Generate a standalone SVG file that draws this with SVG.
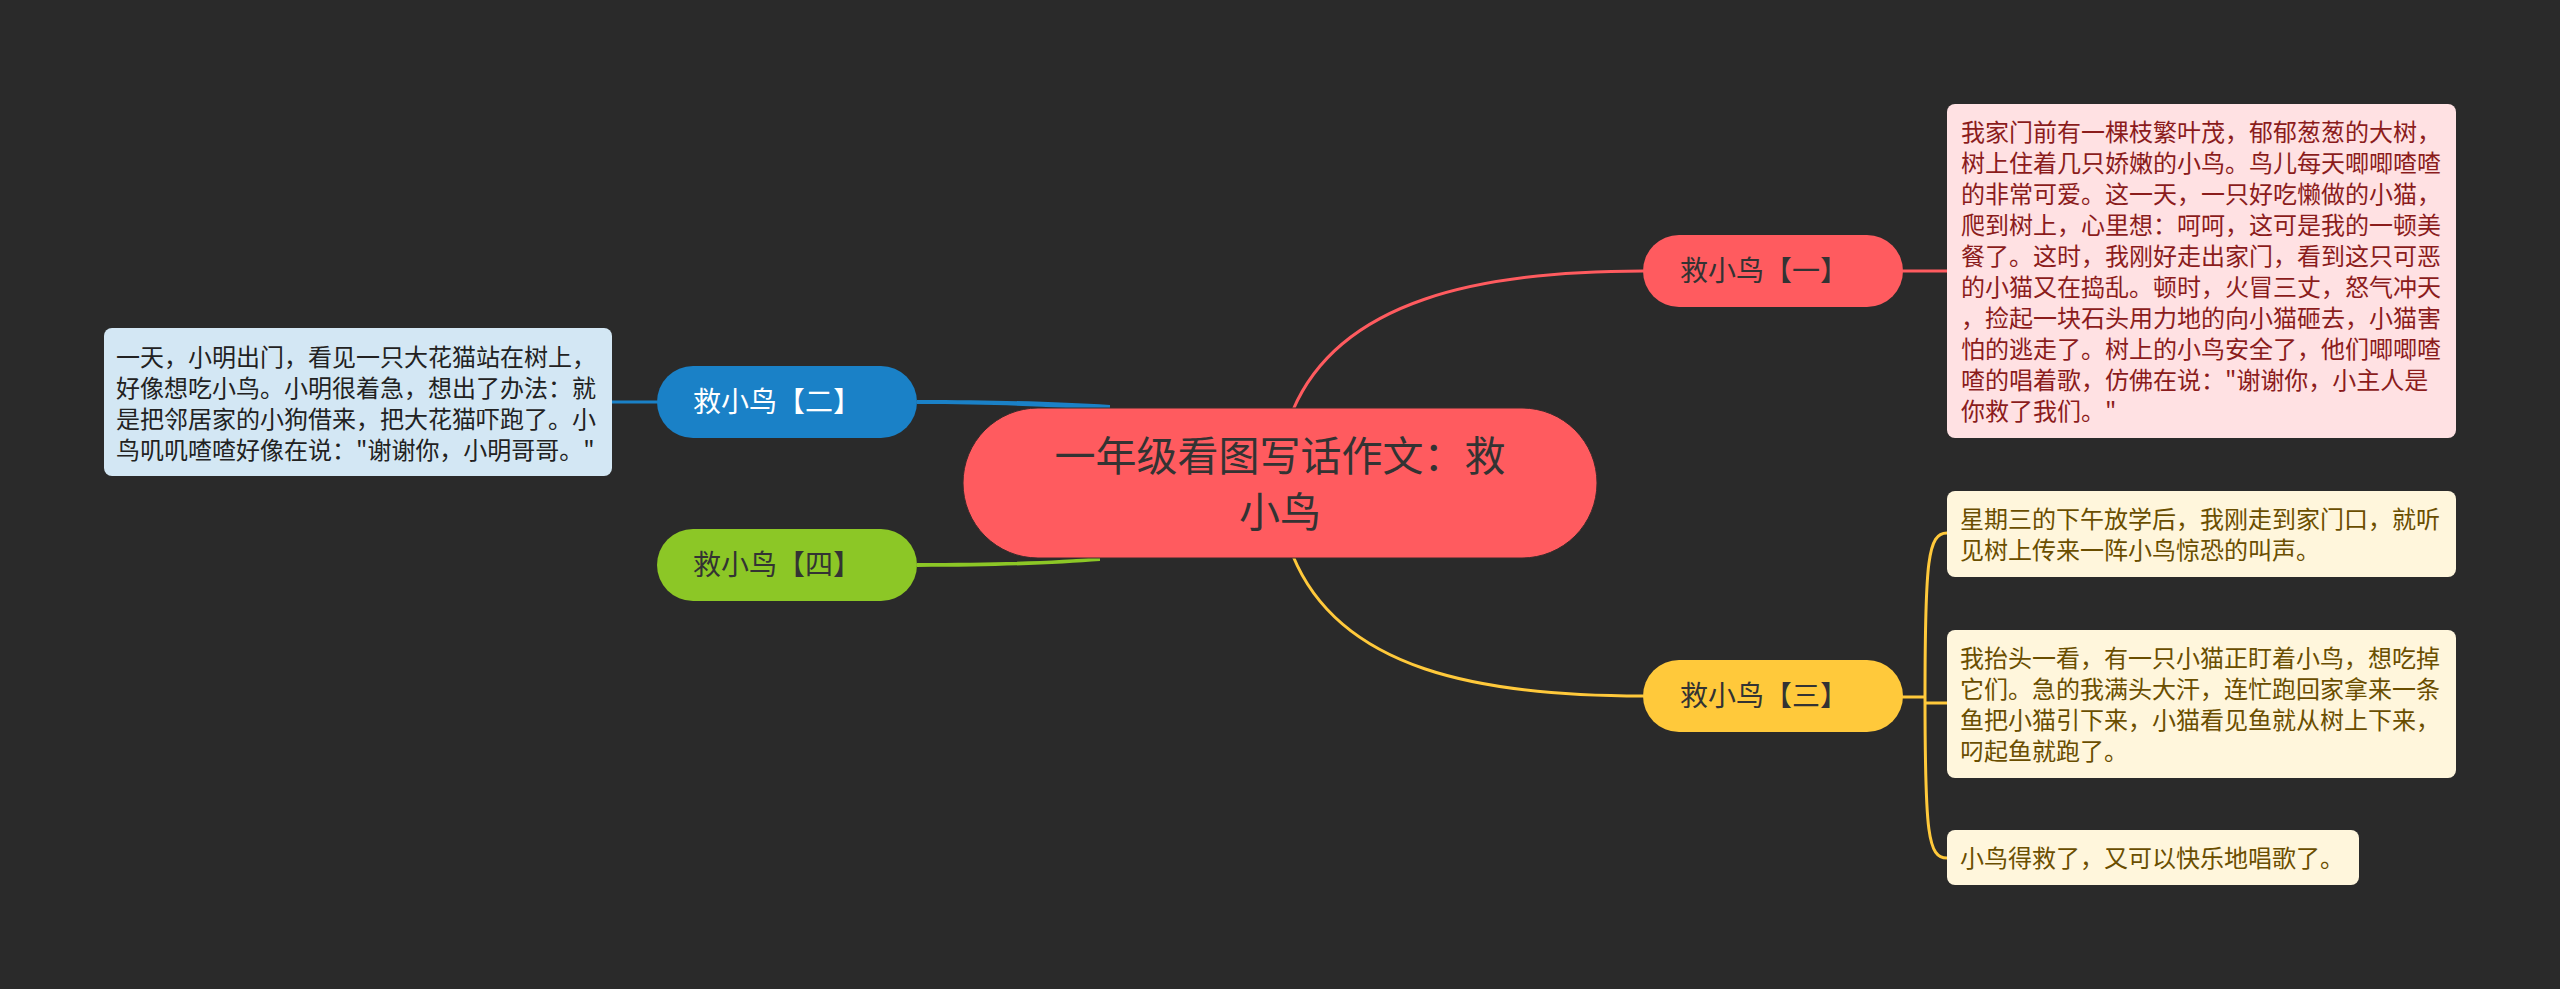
<svg xmlns="http://www.w3.org/2000/svg" width="2560" height="989" viewBox="0 0 2560 989">
<style>
text{font-family:"Noto Sans CJK SC","Noto Sans",sans-serif}
.root{font-size:41px;fill:#333333}
.br{font-size:28px}
.body{font-size:24px}
.dark{fill:#333333}
.white{fill:#ffffff}
.c{fill:none;stroke-width:3;stroke-linecap:round}
</style>
<rect width="2560" height="989" fill="#2a2a2a"/>
<g id="connectors">
<path class="c" d="M1293,410 C1340,300 1480,271 1643,271" stroke="#ff5b5f"/>
<path class="c" d="M1903,271 L1947,271" stroke="#ff5b5f"/>
<path class="c" d="M1293,556 C1340,670 1480,696 1643,696" stroke="#ffc93b"/>
<path class="c" d="M1903,697 L1925,697 M1925,697 C1925,560 1928,533 1947,533 M1925,697 C1925,834 1928,858 1947,858 M1925,703 L1947,703" stroke="#ffc93b"/>
<path d="M917,400 C1000,400 1060,402 1110,405 L1110,411 C1060,407 1000,404 917,404 Z" fill="#1a81c7"/>
<path class="c" d="M612,402 L657,402" stroke="#1a81c7"/>
<path d="M917,563 C1000,563 1060,561 1100,557 L1100,561 C1060,564 1000,567 917,567 Z" fill="#8cc726"/>
</g>
<g id="root">
<rect x="963" y="408" width="634" height="150" rx="75" fill="#ff5b5f" stroke="#3a2a2a" stroke-width="1"/>
<text class="root" x="1280" y="471" text-anchor="middle">一年级看图写话作文：救</text>
<text class="root" x="1280" y="527" text-anchor="middle">小鸟</text>
</g>
<g id="b1">
<rect x="1643" y="235" width="260" height="72" rx="36" fill="#ff5b5f"/>
<text class="br dark" x="1680" y="281">救小鸟【一】</text>
</g>
<g id="b2">
<rect x="657" y="366" width="260" height="72" rx="36" fill="#1a81c7"/>
<text class="br white" x="693" y="412">救小鸟【二】</text>
</g>
<g id="b3">
<rect x="1643" y="660" width="260" height="72" rx="36" fill="#ffc93b"/>
<text class="br dark" x="1680" y="706">救小鸟【三】</text>
</g>
<g id="b4">
<rect x="657" y="529" width="260" height="72" rx="36" fill="#8cc726"/>
<text class="br dark" x="693" y="575">救小鸟【四】</text>
</g>
<g id="t1">
<rect x="1947" y="104" width="509" height="334" rx="8" fill="#ffe1e3"/>
<text class="body" fill="#8b1c1c">
<tspan x="1961" y="141">我家门前有一棵枝繁叶茂，郁郁葱葱的大树，</tspan>
<tspan x="1961" y="172">树上住着几只娇嫩的小鸟。鸟儿每天唧唧喳喳</tspan>
<tspan x="1961" y="203">的非常可爱。这一天，一只好吃懒做的小猫，</tspan>
<tspan x="1961" y="234">爬到树上，心里想：呵呵，这可是我的一顿美</tspan>
<tspan x="1961" y="265">餐了。这时，我刚好走出家门，看到这只可恶</tspan>
<tspan x="1961" y="296">的小猫又在捣乱。顿时，火冒三丈，怒气冲天</tspan>
<tspan x="1961" y="327">，捡起一块石头用力地的向小猫砸去，小猫害</tspan>
<tspan x="1961" y="358">怕的逃走了。树上的小鸟安全了，他们唧唧喳</tspan>
<tspan x="1961" y="389">喳的唱着歌，仿佛在说："谢谢你，小主人是</tspan>
<tspan x="1961" y="420">你救了我们。"</tspan>
</text>
</g>
<g id="t2">
<rect x="104" y="328" width="508" height="148" rx="8" fill="#d3e7f4"/>
<text class="body" fill="#222222">
<tspan x="116" y="366">一天，小明出门，看见一只大花猫站在树上，</tspan>
<tspan x="116" y="397">好像想吃小鸟。小明很着急，想出了办法：就</tspan>
<tspan x="116" y="428">是把邻居家的小狗借来，把大花猫吓跑了。小</tspan>
<tspan x="116" y="459">鸟叽叽喳喳好像在说："谢谢你，小明哥哥。"</tspan>
</text>
</g>
<g id="t3a">
<rect x="1947" y="491" width="509" height="86" rx="8" fill="#fff6dc"/>
<text class="body" fill="#6a4e00">
<tspan x="1960" y="528">星期三的下午放学后，我刚走到家门口，就听</tspan>
<tspan x="1960" y="559">见树上传来一阵小鸟惊恐的叫声。</tspan>
</text>
</g>
<g id="t3b">
<rect x="1947" y="630" width="509" height="148" rx="8" fill="#fff6dc"/>
<text class="body" fill="#6a4e00">
<tspan x="1960" y="667">我抬头一看，有一只小猫正盯着小鸟，想吃掉</tspan>
<tspan x="1960" y="698">它们。急的我满头大汗，连忙跑回家拿来一条</tspan>
<tspan x="1960" y="729">鱼把小猫引下来，小猫看见鱼就从树上下来，</tspan>
<tspan x="1960" y="760">叼起鱼就跑了。</tspan>
</text>
</g>
<g id="t3c">
<rect x="1947" y="830" width="412" height="55" rx="8" fill="#fff6dc"/>
<text class="body" fill="#6a4e00">
<tspan x="1960" y="867">小鸟得救了，又可以快乐地唱歌了。</tspan>
</text>
</g>
</svg>
